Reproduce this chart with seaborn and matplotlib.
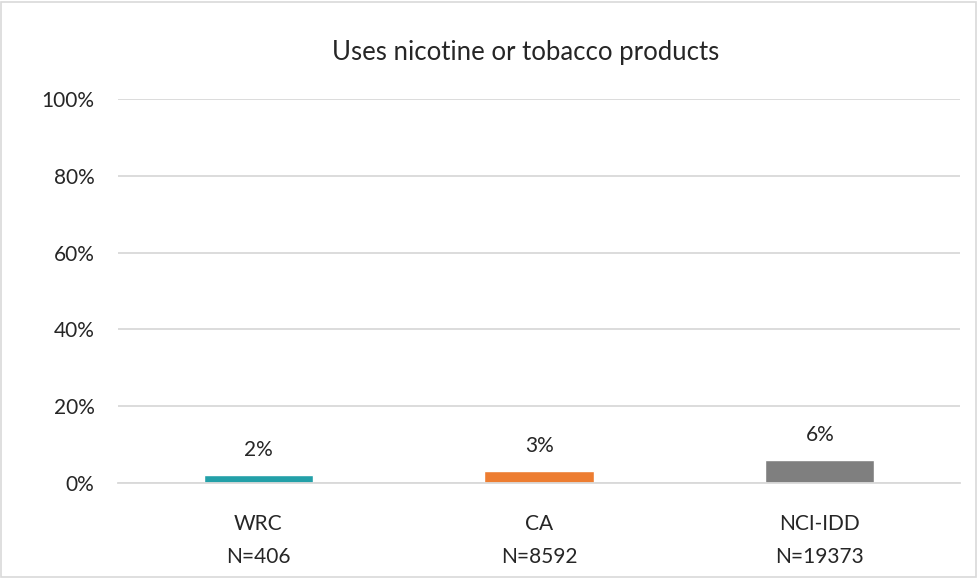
import matplotlib
matplotlib.use("Agg")
import matplotlib.pyplot as plt
import seaborn as sns
import pandas as pd
from matplotlib.patches import Rectangle

# Daten
groups = ["WRC", "CA", "NCI-IDD"]
sample_sizes = [406, 8592, 19373]
shares = [0.02, 0.03, 0.06]
bar_colors = ["#23A0A8", "#ED7D31", "#7F7F7F"]
y_ticks = [0, 0.2, 0.4, 0.6, 0.8, 1.0]
y_tick_labels = ["0%", "20%", "40%", "60%", "80%", "100%"]
title = "Uses nicotine or tobacco products"

df = pd.DataFrame({"group": groups, "share": shares})

sns.set_theme(style="white")
plt.rcParams["font.family"] = ["Lato", "DejaVu Sans"]

fig = plt.figure(figsize=(9.78, 5.78), dpi=100)
ax = fig.add_axes([0.1207, 0.1644, 0.861, 0.6643])

sns.barplot(data=df, x="group", y="share", hue="group", palette=bar_colors,
            width=0.39, legend=False, ax=ax, saturation=1)

txt_col = "#262626"
fs = 15

ax.set_ylim(0, 1)
ax.set_xlim(-0.5, 2.5)
ax.set_yticks(y_ticks)
ax.set_yticklabels(y_tick_labels, fontsize=fs, color=txt_col)
ax.set_xticks(range(len(groups)))
ax.set_xticklabels([f"{g}\nN={n}" for g, n in zip(groups, sample_sizes)],
                   fontsize=fs, color=txt_col, linespacing=1.85)
ax.tick_params(axis="y", length=0, pad=17)
ax.tick_params(axis="x", length=0, pad=22)
ax.set_xlabel("")
ax.set_ylabel("")

ax.yaxis.grid(True, color="#D9D9D9", linewidth=1.3)
ax.set_axisbelow(True)
for s in ["top", "right", "left"]:
    ax.spines[s].set_visible(False)
ax.spines["bottom"].set_color("#D9D9D9")
ax.spines["bottom"].set_linewidth(1.3)

# Datenbeschriftungen
for i, v in enumerate(shares):
    ax.text(i, v + 0.066, f"{v:.0%}", ha="center", va="center",
            fontsize=fs, color=txt_col)

fig.text(0.537, 0.91, title, ha="center", va="center", fontsize=18.5, color=txt_col)

# Rahmen
fig.patches.append(Rectangle((0.001, 0.002), 0.997, 0.995, transform=fig.transFigure,
                             fill=False, edgecolor="#D9D9D9", linewidth=1.2))

fig.savefig("out.png", dpi=100)
